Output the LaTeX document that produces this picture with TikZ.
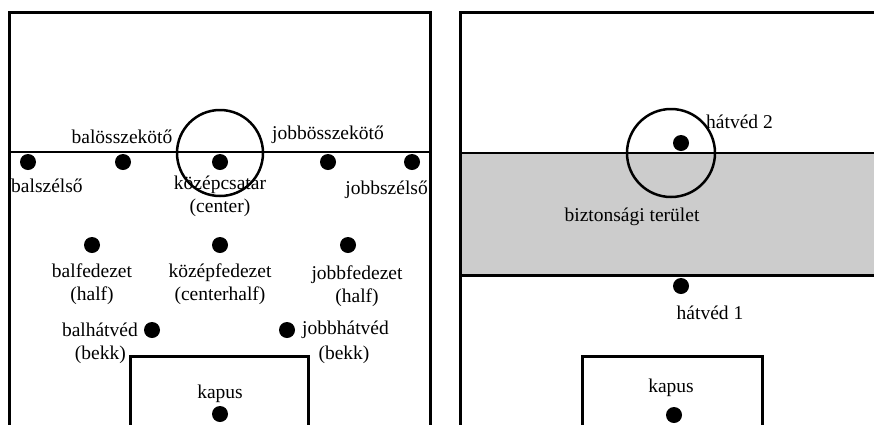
\documentclass[tikz,border=0pt]{standalone}
\usepackage{fontspec}
\setmainfont{Liberation Serif}
\tikzset{
  field/.style={line width=3pt},
  pline/.style={line width=2.5pt},
  ring/.style={line width=2.5pt},
  player/.style={circle, fill=black, minimum size=16pt, inner sep=0pt},
  lbl/.style={inner sep=0pt, font=\fontsize{19.5}{23}\selectfont, align=center},
}
\definecolor{zonegray}{HTML}{CCCCCC}
\begin{document}
\begin{tikzpicture}[x=1pt,y=-1pt]
\useasboundingbox (0,0) rectangle (874,424);
\clip (0,0) rectangle (874,424);
% ---------- left panel ----------
\draw[field] (9,430) -- (9,12) -- (430,12) -- (430,430);
\draw[pline] (9,152) -- (430,152);
\draw[ring] (220,153) circle (43);
\draw[field] (130,430) -- (130,356) -- (308,356) -- (308,430);
\node[player] (bsz) at (28,162) {};
\node[player] (bo) at (123,162) {};
\node[player] (kc) at (220,162) {};
\node[player] (jo) at (328,162) {};
\node[player] (jsz) at (412,162) {};
\node[player] (bf) at (92,245) {};
\node[player] (kf) at (220,245) {};
\node[player] (jf) at (348,245) {};
\node[player] (bh) at (152,330) {};
\node[player] (jh) at (287,330) {};
\node[player] (kap) at (220,414) {};
\node[lbl] (lbo) at (122,137) {balösszekötő};
\node[lbl] (ljo) at (328,135) {jobbösszekötő};
\node[lbl, anchor=west] (lbsz) at (11,186) {balszélső};
\node[lbl] (lkc) at (220,196) {középcsatar\\(center)};
\node[lbl, anchor=east] (ljsz) at (428,190) {jobbszélső};
\node[lbl] (lbf) at (92,284) {balfedezet\\(half)};
\node[lbl] (lkf) at (220,284) {középfedezet\\(centerhalf)};
\node[lbl] (ljf) at (357,286) {jobbfedezet\\(half)};
\node[lbl, anchor=east] (lbh) at (138,330) {balhátvéd};
\node[lbl, anchor=east] (lbhb) at (126,355) {(bekk)};
\node[lbl, anchor=west] (ljh) at (302,330) {jobbhátvéd};
\node[lbl] (ljhb) at (344,355) {(bekk)};
\node[lbl] (lkap) at (220,394) {kapus};
% ---------- right panel ----------
\fill[zonegray] (460,153) rectangle (880,275);
\draw[field] (460,430) -- (460,12) -- (880,12);
\draw[pline] (460,153) -- (880,153);
\draw[field] (460,275) -- (880,275);
\draw[ring] (671,153) circle (44);
\draw[field] (582,430) -- (582,356) -- (762,356) -- (762,430);
\node[player] (h2) at (681,143) {};
\node[player] (h1) at (681,286) {};
\node[player] (kap2) at (674,415) {};
\node[lbl, anchor=west] (lh2) at (706,122) {hátvéd 2};
\node[lbl] (lbt) at (632,217) {biztonsági terület};
\node[lbl] (lh1) at (710,313) {hátvéd 1};
\node[lbl] (lkap2) at (671,388) {kapus};
\end{tikzpicture}
\end{document}
